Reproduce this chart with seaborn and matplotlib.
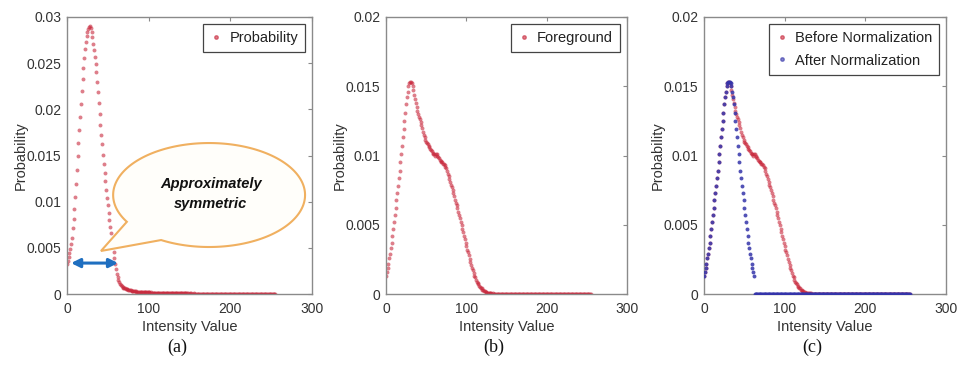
import numpy as np
import matplotlib
matplotlib.use("Agg")
import matplotlib.pyplot as plt
import seaborn as sns
from matplotlib.path import Path
from matplotlib.patches import PathPatch
from matplotlib.lines import Line2D
from matplotlib.ticker import FormatStrFormatter

# ---------------- data ----------------
intensity = np.arange(256)

probability_a = [
    0.0033, 0.0036, 0.0040, 0.0044, 0.0049, 0.0054, 0.0061, 0.0071, 0.0081, 0.0092,
    0.0105, 0.0119, 0.0134, 0.0149, 0.0164, 0.0178, 0.0192, 0.0206, 0.0220, 0.0233,
    0.0245, 0.0256, 0.0265, 0.0273, 0.0279, 0.0284, 0.0287, 0.0289, 0.0290, 0.0288,
    0.0284, 0.0278, 0.0271, 0.0264, 0.0257, 0.0249, 0.0240, 0.0230, 0.0219, 0.0207,
    0.0195, 0.0183, 0.0172, 0.0162, 0.0151, 0.0141, 0.0131, 0.0122, 0.0113, 0.0104,
    0.0096, 0.0088, 0.0080, 0.0073, 0.0066, 0.0059, 0.0053, 0.0046, 0.0039, 0.0033,
    0.0027, 0.0022, 0.0018, 0.0015, 0.0013, 0.0011, 0.0010, 0.0009, 0.0008, 0.0007,
    0.00068, 0.00062, 0.00058, 0.00054, 0.00050, 0.00046, 0.00043, 0.00040, 0.00038, 0.00036,
    0.00034, 0.00032, 0.00030, 0.00029, 0.00028, 0.00027, 0.00026, 0.00025, 0.00024, 0.00023,
    0.00022, 0.00022, 0.00021, 0.00021, 0.00020, 0.00020, 0.00019, 0.00019, 0.00018, 0.00018,
    0.00017, 0.00018, 0.00016, 0.00017, 0.00016, 0.00015, 0.00016, 0.00015, 0.00014, 0.00015,
    0.00014, 0.00014, 0.00013, 0.00014, 0.00013, 0.00012, 0.00013, 0.00012, 0.00012, 0.00011,
    0.00012, 0.00011, 0.00011, 0.00010, 0.00011, 0.00010, 0.00010, 0.00009, 0.00010, 0.00009,
    0.00009, 0.00009, 0.00008, 0.00009, 0.00008, 0.00008, 0.00008, 0.00007, 0.00008, 0.00007,
    0.00007, 0.00007, 0.00006, 0.00007, 0.00006, 0.00006, 0.00007, 0.00006, 0.00006, 0.00005,
    0.00006, 0.00005, 0.00006, 0.00005, 0.00005, 0.00006, 0.00005, 0.00005, 0.00004, 0.00005,
    0.00005, 0.00004, 0.00005, 0.00004, 0.00004, 0.00005, 0.00004, 0.00004, 0.00004, 0.00003,
    0.00004, 0.00004, 0.00003, 0.00004, 0.00003, 0.00003, 0.00004, 0.00003, 0.00003, 0.00003,
    0.00003, 0.00003, 0.00003, 0.00002, 0.00003, 0.00003, 0.00002, 0.00003, 0.00002, 0.00002,
    0.00003, 0.00002, 0.00002, 0.00002, 0.00003, 0.00002, 0.00002, 0.00002, 0.00002, 0.00002,
    0.00002, 0.00002, 0.00002, 0.00001, 0.00002, 0.00002, 0.00001, 0.00002, 0.00001, 0.00002,
    0.00001, 0.00002, 0.00001, 0.00001, 0.00002, 0.00001, 0.00001, 0.00001, 0.00002, 0.00001,
    0.00001, 0.00001, 0.00001, 0.00001, 0.00001, 0.00001, 0.00001, 0.00001, 0.00001, 0.00001,
    0.00001, 0.00001, 0.00001, 0.00001, 0.00001, 0.00001, 0.00001, 0.00001, 0.00001, 0.00001,
    0.00001, 0.00001, 0.00001, 0.00001, 0.00001, 0.00001, 0.00001, 0.00001, 0.00001, 0.00001,
    0.00001, 0.00001, 0.00001, 0.00001, 0.00001, 0.00001,
]

foreground_b = [
    0.0013, 0.0016, 0.0019, 0.0022, 0.0026, 0.0029, 0.0033, 0.0037, 0.0042, 0.0047,
    0.0052, 0.0057, 0.0062, 0.0068, 0.0073, 0.0078, 0.0084, 0.0089, 0.0095, 0.0101,
    0.0107, 0.0113, 0.0119, 0.0125, 0.0131, 0.0137, 0.0142, 0.0146, 0.0150, 0.0152,
    0.0153, 0.0153, 0.0152, 0.0150, 0.0147, 0.0144, 0.0141, 0.0138, 0.0135, 0.0132,
    0.0130, 0.0128, 0.0126, 0.0124, 0.0122, 0.0120, 0.0117, 0.0115, 0.0113, 0.0111,
    0.0110, 0.0109, 0.0108, 0.0107, 0.0106, 0.0105, 0.0104, 0.0103, 0.0102, 0.0101,
    0.0101, 0.0100, 0.0101, 0.0101, 0.0100, 0.0099, 0.0098, 0.0097, 0.0096, 0.0095,
    0.0095, 0.0094, 0.0094, 0.0093, 0.0092, 0.0091, 0.0089, 0.0087, 0.0085, 0.0083,
    0.0081, 0.0079, 0.0077, 0.0075, 0.0073, 0.0071, 0.0068, 0.0066, 0.0064, 0.0062,
    0.0059, 0.0057, 0.0055, 0.0052, 0.0050, 0.0047, 0.0045, 0.0042, 0.0040, 0.0037,
    0.0035, 0.0032, 0.0030, 0.0028, 0.0025, 0.0023, 0.0021, 0.0019, 0.0017, 0.0015,
    0.0013, 0.0012, 0.0010, 0.0009, 0.0008, 0.0007, 0.0006, 0.0005, 0.0004, 0.0004,
    0.0003, 0.0003, 0.0002, 0.0002, 0.00015, 0.00012, 0.00010, 0.00008, 0.00006, 0.00005,
    0.00004, 0.00004, 0.00003, 0.00004, 0.00003, 0.00003, 0.00003, 0.00003, 0.00002, 0.00003,
    0.00002, 0.00003, 0.00002, 0.00002, 0.00002, 0.00003, 0.00002, 0.00002, 0.00002, 0.00002,
    0.00002, 0.00001, 0.00002, 0.00002, 0.00001, 0.00002, 0.00001, 0.00001, 0.00002, 0.00001,
    0.00001, 0.00001, 0.00002, 0.00001, 0.00001, 0.00001, 0.00001, 0.00002, 0.00001, 0.00001,
    0.00001, 0.00001, 0.00001, 0.00001, 0.00001, 0.00001, 0.00001, 0.00001, 0.00001, 0.00001,
    0.00001, 0.00001, 0.00001, 0.00001, 0.00001, 0.00001, 0.00001, 0.00001, 0.00001, 0.00001,
    0.00001, 0.00001, 0.00001, 0.00001, 0.00001, 0.00001, 0.00001, 0.00001, 0.00001, 0.00001,
    0.00001, 0.00001, 0.00001, 0.00001, 0.00001, 0.00001, 0.00001, 0.00001, 0.00001, 0.00001,
    0.00001, 0.00001, 0.00001, 0.00001, 0.00001, 0.00001, 0.00001, 0.00001, 0.00001, 0.00001,
    0.00001, 0.00001, 0.00001, 0.00001, 0.00001, 0.00001, 0.00001, 0.00001, 0.00001, 0.00001,
    0.00001, 0.00001, 0.00001, 0.00001, 0.00001, 0.00001, 0.00001, 0.00001, 0.00001, 0.00001,
    0.00001, 0.00001, 0.00001, 0.00001, 0.00001, 0.00001, 0.00001, 0.00001, 0.00001, 0.00001,
    0.00001, 0.00001, 0.00001, 0.00001, 0.00001, 0.00001,
]

after_normalization_c = [
    0.0013, 0.0016, 0.0019, 0.0022, 0.0026, 0.0029, 0.0033, 0.0037, 0.0042, 0.0047,
    0.0052, 0.0057, 0.0062, 0.0068, 0.0073, 0.0078, 0.0084, 0.0089, 0.0095, 0.0101,
    0.0107, 0.0113, 0.0119, 0.0125, 0.0131, 0.0137, 0.0142, 0.0146, 0.0150, 0.0152,
    0.0153, 0.0153, 0.0153, 0.0152, 0.0150, 0.0146, 0.0142, 0.0137, 0.0131, 0.0125,
    0.0119, 0.0113, 0.0107, 0.0101, 0.0095, 0.0089, 0.0084, 0.0078, 0.0073, 0.0068,
    0.0062, 0.0057, 0.0052, 0.0047, 0.0042, 0.0037, 0.0033, 0.0029, 0.0026, 0.0022,
    0.0019, 0.0016, 0.0013, 0, 0, 0, 0, 0, 0, 0,
    0, 0, 0, 0, 0, 0, 0, 0, 0, 0,
    0, 0, 0, 0, 0, 0, 0, 0, 0, 0,
    0, 0, 0, 0, 0, 0, 0, 0, 0, 0,
    0, 0, 0, 0, 0, 0, 0, 0, 0, 0,
    0, 0, 0, 0, 0, 0, 0, 0, 0, 0,
    0, 0, 0, 0, 0, 0, 0, 0, 0, 0,
    0, 0, 0, 0, 0, 0, 0, 0, 0, 0,
    0, 0, 0, 0, 0, 0, 0, 0, 0, 0,
    0, 0, 0, 0, 0, 0, 0, 0, 0, 0,
    0, 0, 0, 0, 0, 0, 0, 0, 0, 0,
    0, 0, 0, 0, 0, 0, 0, 0, 0, 0,
    0, 0, 0, 0, 0, 0, 0, 0, 0, 0,
    0, 0, 0, 0, 0, 0, 0, 0, 0, 0,
    0, 0, 0, 0, 0, 0, 0, 0, 0, 0,
    0, 0, 0, 0, 0, 0, 0, 0, 0, 0,
    0, 0, 0, 0, 0, 0, 0, 0, 0, 0,
    0, 0, 0, 0, 0, 0, 0, 0, 0, 0,
    0, 0, 0, 0, 0, 0, 0, 0, 0, 0,
    0, 0, 0, 0, 0, 0,
]

x_ticks = [0, 100, 200, 300]
y_ticks_a = [0, 0.005, 0.01, 0.015, 0.02, 0.025, 0.03]
y_ticks_bc = [0, 0.005, 0.01, 0.015, 0.02]
panel_letters = ["(a)", "(b)", "(c)"]
x_label = "Intensity Value"
y_label = "Probability"

assert len(probability_a) == 256, len(probability_a)
assert len(foreground_b) == 256, len(foreground_b)
assert len(after_normalization_c) == 256, len(after_normalization_c)

# ---------------- style ----------------
sns.set_style("white")
plt.rcParams["font.family"] = ["Liberation Sans", "DejaVu Sans"]

RED = "#c8283c"
BLUE = "#3434aa"
SPINE = "#8a8a8a"
TXT = "#333333"

fig = plt.figure(figsize=(9.62, 3.84), dpi=100)
W, H = 962.0, 384.0
boxes = [(67, 312), (386, 627), (704, 946)]
top_px, bot_px = 17, 294
axes = []
for l, r in boxes:
    axes.append(fig.add_axes([l / W, 1 - bot_px / H, (r - l) / W, (bot_px - top_px) / H]))


def style(ax, yticks):
    ax.set_xlim(0, 300)
    ax.set_ylim(0, yticks[-1])
    ax.set_xticks(x_ticks)
    ax.set_yticks(yticks)
    ax.yaxis.set_major_formatter(FormatStrFormatter("%g"))
    for s in ax.spines.values():
        s.set_color(SPINE)
        s.set_linewidth(1.0)
        s.set_visible(True)
    ax.tick_params(direction="in", length=3, width=0.8, color=SPINE, top=True, right=True,
                   labelsize=10, labelcolor=TXT)
    ax.tick_params(axis="x", pad=6)
    ax.tick_params(axis="y", pad=4)
    ax.set_xlabel(x_label, fontsize=10.5, color=TXT, labelpad=3)
    ax.set_ylabel(y_label, fontsize=10.5, color=TXT, labelpad=-1)


def legend(ax, items):
    handles = [Line2D([], [], marker=".", linestyle="", color=c, alpha=0.6, markersize=5, label=lab)
               for lab, c in items]
    lg = ax.legend(handles=handles, loc="upper right", frameon=True, fancybox=False,
                   framealpha=1, edgecolor="#444444", fontsize=10.5, handlelength=0.8,
                   handletextpad=0.5, borderpad=0.5, borderaxespad=0.45, labelspacing=0.6)
    lg.get_frame().set_linewidth(0.9)
    for t in lg.get_texts():
        t.set_color("#222222")


MS = 8

# ---------------- panel (a) ----------------
ax = axes[0]
sns.scatterplot(x=intensity, y=probability_a, ax=ax, color=RED, s=MS, linewidth=0, alpha=0.6, zorder=2)
style(ax, y_ticks_a)
legend(ax, [("Probability", RED)])

# speech bubble (positions in data coordinates)
cx, cy, ea, eb = 174.0, 0.01072, 117.5, 0.00563
tip = (41.6, 0.00466)
t = np.deg2rad(np.linspace(240, 571, 240))
verts = np.column_stack([cx + ea * np.cos(t), cy + eb * np.sin(t)])
verts = np.vstack([verts, tip, verts[0], verts[0]])
codes = [Path.MOVETO] + [Path.LINETO] * (len(verts) - 2) + [Path.CLOSEPOLY]
ax.add_patch(PathPatch(Path(verts, codes), facecolor="#fffefa", edgecolor="#f0b060", lw=1.5, zorder=3))
ax.text(cx + 2, cy + 0.0001, "Approximately\nsymmetric", ha="center", va="center", fontsize=10.5,
        fontweight="bold", fontstyle="italic", color="#111111", linespacing=1.6, zorder=4,
        family=["Liberation Sans Narrow", "Liberation Sans", "DejaVu Sans"])

ax.annotate("", xy=(5.0, 0.00335), xytext=(62.5, 0.00335),
            arrowprops=dict(arrowstyle="<|-|>", color="#1f6fc0", lw=2.2, mutation_scale=13,
                            shrinkA=0, shrinkB=0), zorder=5)

# ---------------- panel (b) ----------------
ax = axes[1]
sns.scatterplot(x=intensity, y=foreground_b, ax=ax, color=RED, s=MS, linewidth=0, alpha=0.6, zorder=2)
style(ax, y_ticks_bc)
legend(ax, [("Foreground", RED)])

# ---------------- panel (c) ----------------
ax = axes[2]
sns.scatterplot(x=intensity, y=foreground_b, ax=ax, color=RED, s=MS, linewidth=0, alpha=0.6, zorder=2)
sns.scatterplot(x=intensity, y=after_normalization_c, ax=ax, color=BLUE, s=MS, linewidth=0, alpha=0.85, zorder=3)
style(ax, y_ticks_bc)
legend(ax, [("Before Normalization", RED), ("After Normalization", BLUE)])

# panel letters
for letter, cxp in zip(panel_letters, [177, 494, 812]):
    fig.text(cxp / W, 1 - 347 / H, letter, ha="center", va="center", fontsize=13,
             family=["Liberation Serif", "DejaVu Serif"], color="#111111")

fig.savefig("out.png", dpi=100, facecolor="white")
